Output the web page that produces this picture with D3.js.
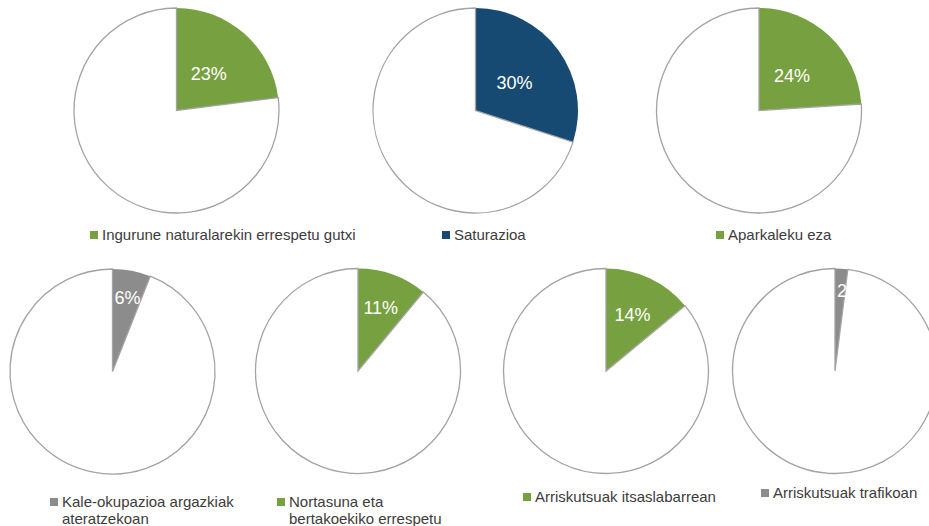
<!DOCTYPE html>
<html>
<head>
<meta charset="utf-8">
<script src="https://cdn.jsdelivr.net/npm/d3@7"></script>
<style>
  html, body { margin: 0; padding: 0; background: #ffffff; }
  svg { display: block; }
</style>
</head>
<body>
<svg id="chart" width="929" height="526"></svg>
<script>
// ---- data ----
const categories = [
  "Ingurune naturalarekin errespetu gutxi",
  "Saturazioa",
  "Aparkaleku eza",
  "Kale-okupazioa argazkiak\nateratzekoan",
  "Nortasuna eta\nbertakoekiko errespetu",
  "Arriskutsuak itsaslabarrean",
  "Arriskutsuak trafikoan"
];
const values = [23, 30, 24, 6, 11, 14, 2];
const valueLabels = ["23%", "30%", "24%", "6%", "11%", "14%", "2%"];
const colors = ["#77a140", "#174a72", "#77a140", "#8c8c8c", "#77a140", "#77a140", "#8c8c8c"];

// ---- layout (positions only) ----
const pieCenters = [[176.5, 110.5], [475.5, 110.5], [759, 110.5], [112.5, 371.5], [358, 371], [606, 371], [835, 371]];
const legendPos = [[90, 240], [442, 240], [716, 240], [50, 507], [277, 507], [523, 502], [761, 498]];
const radius = 102.5;

const svg = d3.select("#chart");
const pie = d3.pie().sort(null).value(d => d);
const arc = d3.arc().innerRadius(0).outerRadius(radius);

values.forEach((v, i) => {
  const [cx, cy] = pieCenters[i];
  const g = svg.append("g").attr("transform", `translate(${cx},${cy})`);
  const arcs = pie([v, 100 - v]);

  g.selectAll("path.slice")
    .data(arcs)
    .join("path")
    .attr("class", "slice")
    .attr("d", arc)
    .attr("fill", (d, j) => j === 0 ? colors[i] : "#ffffff")
    .attr("stroke", (d, j) => j === 0 ? "none" : "#a3a3a3")
    .attr("stroke-width", 1.3);

  // value label
  const a = arcs[0];
  const mid = (a.startAngle + a.endAngle) / 2;
  const p = v / 100;
  const dist = radius * Math.max(0.47, 0.82 - 1.5 * p);
  const lbl = g.append("text")
    .attr("text-anchor", "middle")
    .attr("dy", "0.36em")
    .attr("fill", "#ffffff")
    .style("font-family", "'Liberation Sans', Arial, Helvetica, sans-serif")
    .style("font-size", "18px")
    .text(valueLabels[i]);
  const w = lbl.node().getComputedTextLength();
  const lx = Math.max(Math.sin(mid) * dist, w / 2 + 2);
  const ly = -Math.cos(mid) * dist;
  lbl.attr("x", lx).attr("y", ly);

  // legend
  const [lgx, lgy] = legendPos[i];
  const lg = svg.append("g").attr("transform", `translate(${lgx},${lgy})`);
  lg.append("rect")
    .attr("x", 0).attr("y", -9)
    .attr("width", 8).attr("height", 8)
    .attr("fill", colors[i]);
  const lines = categories[i].split("\n");
  const t = lg.append("text")
    .attr("fill", "#3c3c3c")
    .style("font-family", "'Liberation Sans', Arial, Helvetica, sans-serif")
    .style("font-size", "15px");
  lines.forEach((ln, k) => {
    t.append("tspan").attr("x", 12).attr("y", k * 16.5).text(ln);
  });
});
</script>
</body>
</html>
